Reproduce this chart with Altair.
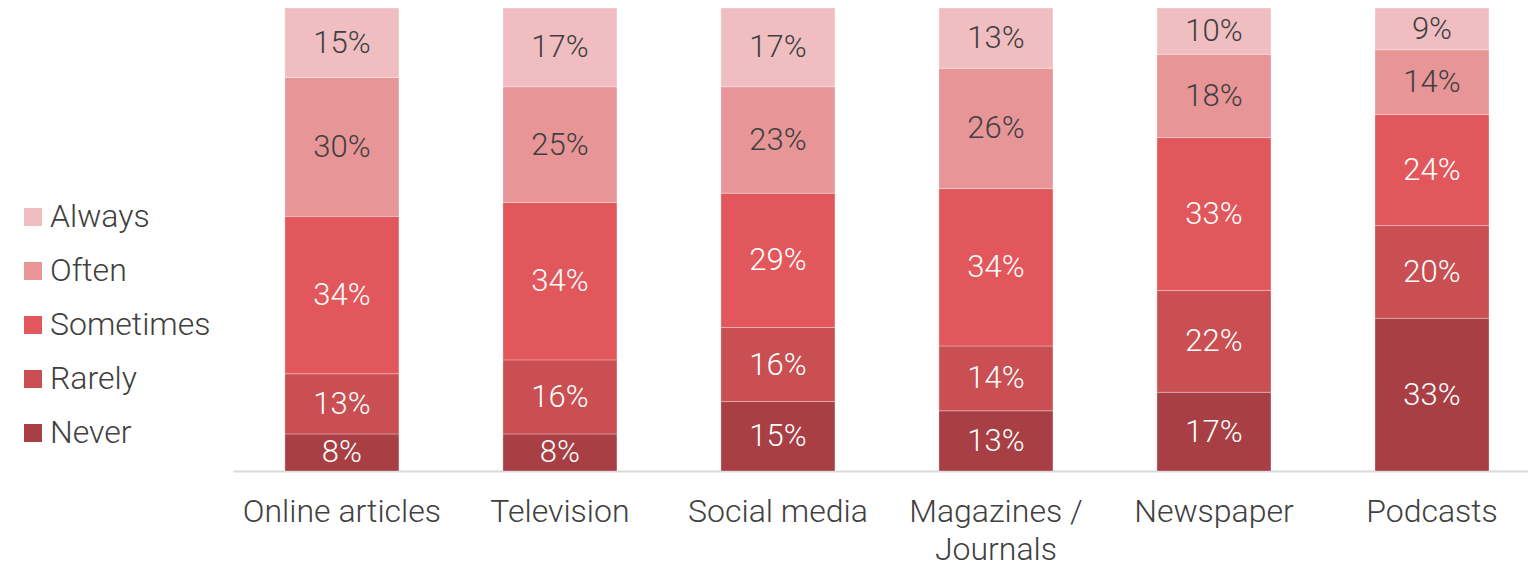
import altair as alt
import pandas as pd

categories = ["Online articles", "Television", "Social media", "Magazines / Journals", "Newspaper", "Podcasts"]
levels = ["Never", "Rarely", "Sometimes", "Often", "Always"]
never = [8, 8, 15, 13, 17, 33]
rarely = [13, 16, 16, 14, 22, 20]
sometimes = [34, 34, 29, 34, 33, 24]
often = [30, 25, 23, 26, 18, 14]
always = [15, 17, 17, 13, 10, 9]
colors = {"Always": "#F0BEC0", "Often": "#E89597", "Sometimes": "#E2575C", "Rarely": "#C94F52", "Never": "#A83F44"}

series = {"Never": never, "Rarely": rarely, "Sometimes": sometimes, "Often": often, "Always": always}
rows = []
for lvl_i, lvl in enumerate(levels):
    for c, v in zip(categories, series[lvl]):
        rows.append({"category": c, "level": lvl, "order": lvl_i, "value": v,
                     "label": f"{v}%", "dark": lvl in ("Often", "Always")})
df = pd.DataFrame(rows)

legend_order = ["Always", "Often", "Sometimes", "Rarely", "Never"]
FONT = "Roboto"

base = alt.Chart(df).transform_stack(
    stack="value", groupby=["category"], as_=["y0", "y1"], sort=[alt.SortField("order", order="ascending")]
).transform_calculate(mid="(datum.y0 + datum.y1) / 2")

xenc = alt.X("category:N", sort=categories, title=None,
             scale=alt.Scale(paddingInner=0.477, paddingOuter=0.2085, align=0.571),
             axis=alt.Axis(labelAngle=0, labelFont=FONT, labelFontSize=32, labelFontWeight=300,
                           labelColor="#404040", domainColor="#D9D9D9", domainWidth=2,
                           ticks=False, labelPadding=25, labelLineHeight=38, labelLimit=0,
                           labelExpr="datum.label == 'Magazines / Journals' ? ['Magazines /', 'Journals'] : datum.label"))

bars = base.mark_bar(stroke="#FFFFFF", strokeWidth=0.6, strokeOpacity=0.5).encode(
    x=xenc,
    y=alt.Y("y0:Q", scale=alt.Scale(domain=[0, 100], nice=False), axis=None),
    y2="y1:Q",
    color=alt.Color("level:N", scale=alt.Scale(domain=legend_order, range=[colors[k] for k in legend_order]),
                    legend=alt.Legend(title=None, orient="none", legendX=-216, legendY=193,
                                      symbolType="square", symbolSize=324, symbolStrokeWidth=0,
                                      symbolOpacity=1, labelFont=FONT, labelFontSize=32,
                                      labelFontWeight=300, labelColor="#404040", labelOffset=1,
                                      labelLimit=0, rowPadding=22, padding=0)),
)

text = base.mark_text(font=FONT, fontSize=31, fontWeight=300, baseline="middle", dy=1).encode(
    x=alt.X("category:N", sort=categories),
    y=alt.Y("mid:Q"),
    text="label:N",
    color=alt.condition("datum.dark", alt.value("#404040"), alt.value("#FFFFFF")),
)

chart = alt.layer(bars, text).properties(
    width=1295, height=463,
    autosize=alt.AutoSizeParams(type="none"),
    padding={"left": 225, "top": 0, "right": 0, "bottom": 95},
).configure_view(stroke=None)

chart.save("out.html", embed_options={"renderer": "svg", "actions": False})
